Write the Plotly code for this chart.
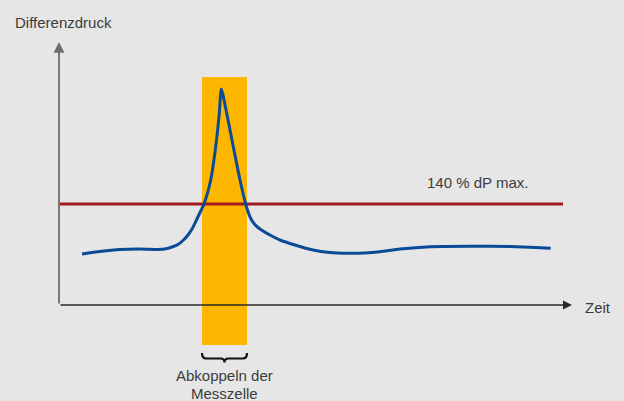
import plotly.graph_objects as go

# Schematic units: time t (arbitrary) and differential pressure dp (arbitrary)
t_curve = [23, 41, 61, 81, 99, 106, 113, 119, 124, 129, 133, 137, 141, 145, 151.7, 156.7, 160.3, 162.3,
           167.7, 174.3, 181, 186.7, 189.5, 192, 195, 199, 204, 211, 221, 236, 254, 271, 288, 306, 321, 341,
           371, 411, 451, 471, 491.7]
dp_curve = [51, 53.5, 55.5, 56, 55.5, 56, 58, 60.5, 64.5, 70, 76, 84, 92.5, 101, 125, 158.3, 191.7, 216,
            191.7, 158.3, 125, 101, 92, 86, 81.5, 77.5, 74, 70, 65, 60, 55, 52.5, 51.7, 52, 53.3, 56,
            58.3, 58.7, 58.5, 57.7, 56.7]

threshold_t = [0, 504]
threshold_dp = [101, 101]

decouple_start = 143
decouple_end = 188
decouple_low = -40
decouple_high = 228

x_axis_end = 513
y_axis_end = 263

labels = {
    "y": "Differenzdruck",
    "x": "Zeit",
    "thr": "140 % dP max.",
    "dec1": "Abkoppeln der",
    "dec2": "Messzelle",
}

font = dict(family="Liberation Sans, Arial, sans-serif", size=15, color="#3c3c3c")

fig = go.Figure()

fig.add_trace(go.Bar(
    x=[(decouple_start + decouple_end) / 2],
    y=[decouple_high - decouple_low],
    base=[decouple_low],
    width=[decouple_end - decouple_start],
    marker=dict(color="#fdb700", line=dict(width=0)),
    hoverinfo="skip",
))

fig.add_trace(go.Scatter(
    x=threshold_t, y=threshold_dp, mode="lines",
    line=dict(color="#a31a20", width=3), hoverinfo="skip",
))

fig.add_trace(go.Scatter(
    x=t_curve, y=dp_curve, mode="lines",
    line=dict(color="#0b4a96", width=3, shape="spline", smoothing=0.6),
    hoverinfo="skip",
))

# axes as arrows
fig.add_annotation(x=x_axis_end, y=0, ax=0, ay=0, xref="x", yref="y", axref="x", ayref="y",
                   text="", showarrow=True, arrowhead=2, arrowsize=1.2, arrowwidth=1.5, arrowcolor="#2a2a2a")
fig.add_annotation(x=0, y=y_axis_end, ax=0, ay=0, xref="x", yref="y", axref="x", ayref="y",
                   text="", showarrow=True, arrowhead=2, arrowsize=1.2, arrowwidth=1.8, arrowcolor="#6e6e6e")

# brace under the decoupling bar
bx0, bx1 = decouple_start, decouple_end
bm = (bx0 + bx1) / 2
yt, ym, yb = -48, -53.5, -57.5
path = (f"M {bx0},{yt} Q {bx0},{ym} {bx0+4},{ym} L {bm-4},{ym} Q {bm},{ym} {bm},{yb} "
        f"Q {bm},{ym} {bm+4},{ym} L {bx1-4},{ym} Q {bx1},{ym} {bx1},{yt}")
fig.add_shape(type="path", path=path, xref="x", yref="y", line=dict(color="#111111", width=2.2))

fig.add_annotation(x=-46, y=283, xref="x", yref="y", text=labels["y"], showarrow=False,
                   xanchor="left", yanchor="middle", font=font)
fig.add_annotation(x=524, y=-2, xref="x", yref="y", text=labels["x"], showarrow=False,
                   xanchor="left", yanchor="middle", font=font)
fig.add_annotation(x=366, y=123, xref="x", yref="y", text=labels["thr"], showarrow=False,
                   xanchor="left", yanchor="middle", font=font)
fig.add_annotation(x=bm, y=-70, xref="x", yref="y", text=labels["dec1"], showarrow=False,
                   xanchor="center", yanchor="middle", font=font)
fig.add_annotation(x=bm, y=-88, xref="x", yref="y", text=labels["dec2"], showarrow=False,
                   xanchor="center", yanchor="middle", font=font)

fig.update_layout(
    width=624, height=401,
    margin=dict(l=0, r=0, t=0, b=0),
    paper_bgcolor="#e6e6e6", plot_bgcolor="#e6e6e6",
    showlegend=False,
    xaxis=dict(range=[-59, 565], visible=False, fixedrange=True),
    yaxis=dict(range=[-96, 305], visible=False, fixedrange=True),
    barmode="overlay",
)

fig.write_html("out.html", config={"displayModeBar": False},
               post_script="document.body.style.margin='0';document.body.style.overflow='hidden';")
